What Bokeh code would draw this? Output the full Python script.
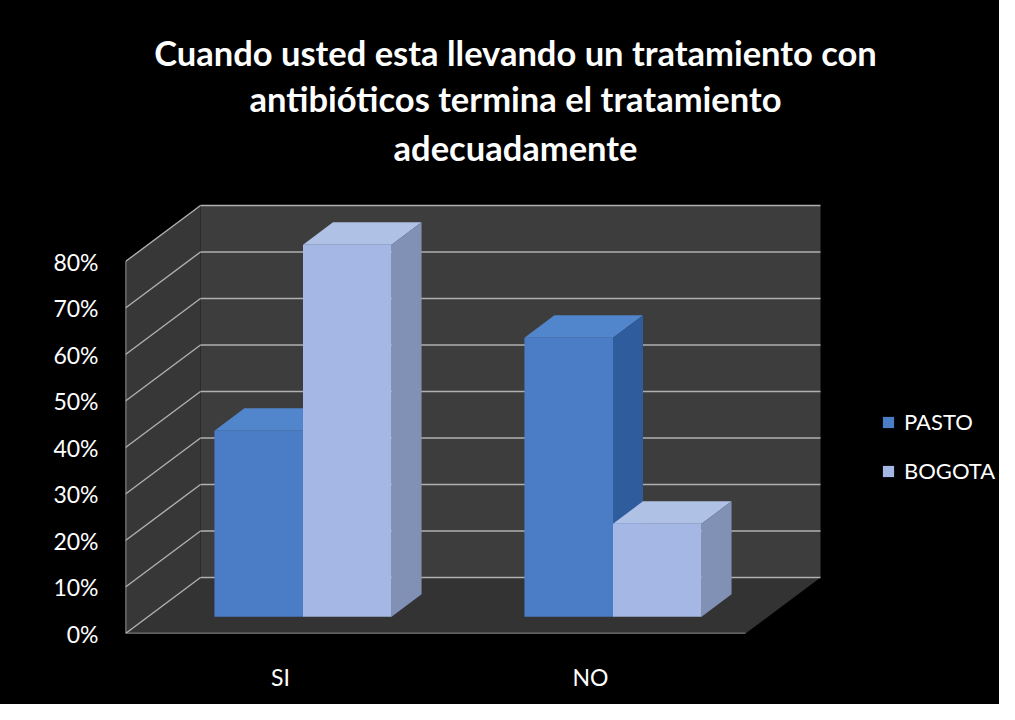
from bokeh.plotting import figure
from bokeh.models import Range1d, FixedTicker, Label, Legend, LegendItem, ColumnDataSource
from bokeh.embed import file_html
from bokeh.resources import INLINE

# ---------------- data ----------------
title_lines = [
    "Cuando usted esta llevando un tratamiento con",
    "antibióticos termina el tratamiento",
    "adecuadamente",
]
categories = ["SI", "NO"]
series_names = ["PASTO", "BOGOTA"]
pasto = [40, 60]
bogota = [80, 20]
y_ticks = [0, 10, 20, 30, 40, 50, 60, 70, 80]
y_labels = ["0%", "10%", "20%", "30%", "40%", "50%", "60%", "70%", "80%"]

# ---------------- styling / geometry ----------------
FIG_W, FIG_H = 999, 704
B_LEFT, B_TOP, B_BOTTOM = 125, 0, 71
PX_X = 310.0          # px per category
PX_Y = 4.65           # px per percent
DX = 75 / PX_X        # depth vector (x, in data units)
DY = 56 / PX_Y        # depth vector (y, in data units)
GAP = 1.5
BW = 1 / (2 + GAP)    # bar width
F0 = 0.3              # bar front depth fraction
BD = 0.4              # bar depth fraction
n = len(categories)
y_max = y_ticks[-1]

front_cols = ["#4a7dc6", "#a5b8e5"]
top_cols = ["#5286cc", "#b0c1e6"]
side_cols = ["#2f5c9c", "#8191b5"]
grid_col = "#b0b0b0"
FONT = "Lato"

frame_w = FIG_W - B_LEFT
frame_h = FIG_H - B_TOP - B_BOTTOM

p = figure(width=FIG_W, height=FIG_H, title=None,
           x_range=Range1d(0, frame_w / PX_X), y_range=Range1d(0, frame_h / PX_Y),
           min_border_left=B_LEFT, min_border_right=0, min_border_top=B_TOP,
           min_border_bottom=B_BOTTOM, output_backend="svg", toolbar_location=None,
           background_fill_color=None, border_fill_color=None,
           outline_line_color=None)
p.styles = {"background-color": "black"}
p.grid.visible = False

# walls & floor
p.patch([0, DX, DX, 0], [0, DY, y_max + DY, y_max], fill_color="#373737", line_color=None)
p.quad(left=[DX], right=[n + DX], bottom=[DY], top=[y_max + DY], fill_color="#3d3d3d", line_color=None)
p.patch([0, n, n + DX, DX], [0, 0, DY, DY], fill_color="#333333", line_color=None)

# gridlines
p.multi_line(xs=[[DX, n + DX] for v in y_ticks], ys=[[v + DY, v + DY] for v in y_ticks],
             line_color=grid_col, line_width=1.6)
p.multi_line(xs=[[0, DX] for v in y_ticks], ys=[[v, v + DY] for v in y_ticks],
             line_color=grid_col, line_width=1.4)
p.multi_line(xs=[[0, 0], [0, n]], ys=[[0, y_max], [0, 0]], line_color=grid_col, line_width=1.6)

# bars
legend_items = []
for s, vals in enumerate([pasto, bogota]):
    L = [i + 0.5 - BW + s * BW + F0 * DX for i in range(n)]
    R = [l + BW for l in L]
    B = [F0 * DY for _ in range(n)]
    T = [v + F0 * DY for v in vals]
    ddx, ddy = BD * DX, BD * DY
    top_xs = [[l, r, r + ddx, l + ddx] for l, r in zip(L, R)]
    top_ys = [[t, t, t + ddy, t + ddy] for t in T]
    side_xs = [[r, r + ddx, r + ddx, r] for r in R]
    side_ys = [[b, b + ddy, t + ddy, t] for b, t in zip(B, T)]
    p.patches(top_xs, top_ys, fill_color=top_cols[s], line_color=None)
    p.patches(side_xs, side_ys, fill_color=side_cols[s], line_color=None)
    src = ColumnDataSource(dict(left=L, right=R, bottom=B, top=T))
    r = p.quad(left="left", right="right", bottom="bottom", top="top", source=src,
               fill_color=front_cols[s], line_color=None)
    legend_items.append(LegendItem(label=series_names[s], renderers=[r]))

# axes
p.yaxis.ticker = FixedTicker(ticks=y_ticks)
p.yaxis.major_label_overrides = {t: l for t, l in zip(y_ticks, y_labels)}
p.xaxis.ticker = FixedTicker(ticks=[i + 0.5 for i in range(n)])
p.xaxis.major_label_overrides = {i + 0.5: c for i, c in enumerate(categories)}
for ax in (p.xaxis, p.yaxis):
    ax.axis_line_color = None
    ax.major_tick_line_color = None
    ax.minor_tick_line_color = None
    ax.major_tick_out = 0
    ax.major_tick_in = 0
    ax.major_label_text_color = "white"
    ax.major_label_text_font = FONT
    ax.major_label_text_font_size = "23px"
p.yaxis.major_label_standoff = 27
p.xaxis.major_label_standoff = 29

# legend
legend = Legend(items=legend_items, location=(756, 149), orientation="vertical",
                background_fill_alpha=0, border_line_color=None, padding=0, margin=0,
                glyph_width=14, glyph_height=14, label_standoff=9, spacing=22,
                label_text_color="white", label_text_font=FONT, label_text_font_size="22px")
p.add_layout(legend, "center")

# title lines (screen units relative to the frame)
title_baselines = [581, 535, 486]
for txt, yb in zip(title_lines, title_baselines):
    p.add_layout(Label(x=390, y=yb, x_units="screen", y_units="screen", text=txt,
                       text_align="center", text_baseline="alphabetic", text_color="white",
                       text_font=FONT, text_font_style="bold", text_font_size="34.5px"))

open("out.html", "w").write(file_html(p, INLINE))
